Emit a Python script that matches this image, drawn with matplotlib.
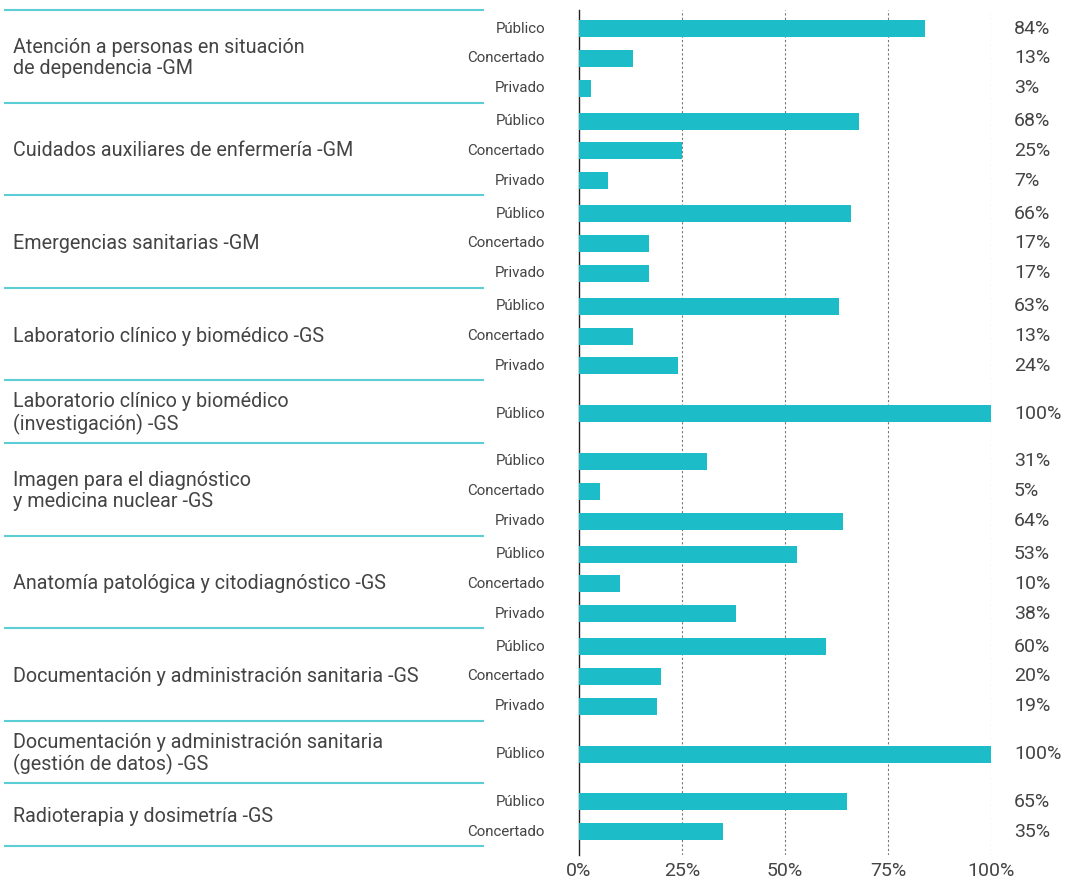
import matplotlib.pyplot as plt
from matplotlib.transforms import blended_transform_factory

plt.rcParams['font.family'] = ['Roboto', 'DejaVu Sans']

group_names = [
    'Atención a personas en situación\nde dependencia -GM',
    'Cuidados auxiliares de enfermería -GM',
    'Emergencias sanitarias -GM',
    'Laboratorio clínico y biomédico -GS',
    'Laboratorio clínico y biomédico\n(investigación) -GS',
    'Imagen para el diagnóstico\ny medicina nuclear -GS',
    'Anatomía patológica y citodiagnóstico -GS',
    'Documentación y administración sanitaria -GS',
    'Documentación y administración sanitaria\n(gestión de datos) -GS',
    'Radioterapia y dosimetría -GS',
]
group_types = [
    ['Público', 'Concertado', 'Privado'],
    ['Público', 'Concertado', 'Privado'],
    ['Público', 'Concertado', 'Privado'],
    ['Público', 'Concertado', 'Privado'],
    ['Público'],
    ['Público', 'Concertado', 'Privado'],
    ['Público', 'Concertado', 'Privado'],
    ['Público', 'Concertado', 'Privado'],
    ['Público'],
    ['Público', 'Concertado'],
]
group_values = [
    [84, 13, 3],
    [68, 25, 7],
    [66, 17, 17],
    [63, 13, 24],
    [100],
    [31, 5, 64],
    [53, 10, 38],
    [60, 20, 19],
    [100],
    [65, 35],
]

W, H = 1075, 880
bar_color = '#1cbdc8'
line_color = '#5ccdd5'
text_color = '#444444'

fig = plt.figure(figsize=(W / 100, H / 100), dpi=100)
ax = fig.add_axes([579 / W, 1 - 855 / H, (991 - 579) / W, (855 - 10) / H])

trans = blended_transform_factory(fig.transFigure, ax.transData)

top = 0.0
seps = [top]
for name, types, vals in zip(group_names, group_types, group_values):
    n = len(types)
    h = max(n, 2) + 0.1
    center = top + h / 2 + 0.07
    ys = [center + (i - (n - 1) / 2) for i in range(n)]
    ax.barh(ys, vals, height=0.57, color=bar_color, zorder=3)
    for y, t, v in zip(ys, types, vals):
        ax.text(545 / W, y, t, transform=trans, ha='right', va='center',
                fontsize=10.8, color=text_color)
        ax.text(1014 / W, y, f'{v}%', transform=trans, ha='left', va='center',
                fontsize=14, color=text_color)
    ax.text(13 / W, sum(ys) / n, name, transform=trans, ha='left', va='center',
            fontsize=14.2, color=text_color, linespacing=1.15)
    top += h
    seps.append(top)

for y in seps:
    ax.plot([5 / W, 483 / W], [y, y], transform=trans, color=line_color,
            lw=1.5, clip_on=False)

ax.set_xlim(0, 100)
ax.set_ylim(top + 0.3, 0)
ax.set_xticks([0, 25, 50, 75, 100])
ax.set_xticklabels(['0%', '25%', '50%', '75%', '100%'], fontsize=14, color=text_color)
ax.set_yticks([])
ax.tick_params(axis='x', length=0, pad=5)
for x in [25, 50, 75, 100]:
    ax.axvline(x, color='#777777', lw=0.8, linestyle=(0, (2, 2)), zorder=1)
for s in ['top', 'right', 'bottom']:
    ax.spines[s].set_visible(False)
ax.spines['left'].set_color('#222222')
ax.spines['left'].set_linewidth(1)

fig.savefig('out.png', dpi=100)
